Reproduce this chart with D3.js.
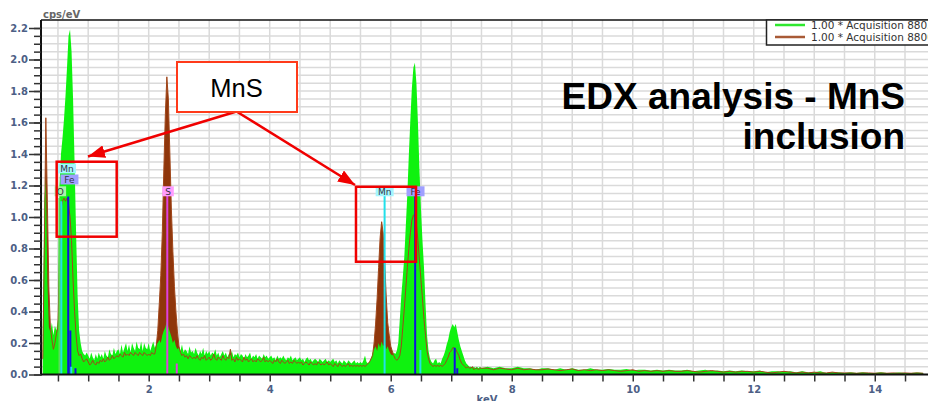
<!DOCTYPE html>
<html>
<head>
<meta charset="utf-8">
<script src="https://cdn.jsdelivr.net/npm/d3@7"></script>
<style>
body { margin: 0; background: #fff; }
svg { display: block; }
</style>
</head>
<body>
<div id="chart-area"></div>
<script>
// spectrum channels: fine channels up to 7.5 keV, coarse ones after
var lowStart = 0.25, lowStep = 0.025;
var highStart = 7.6, highStep = 0.1;

var seriesNames = ["1.00 * Acquisition 8803", "1.00 * Acquisition 8800"];

// cps/eV, acquisition 8803 (green)
var greenLow = [
    0.3, 1.1, 1.25, 0.6, 0.3, 0.27, 0.33, 0.25, 0.31, 0.28,
    0.35, 1.2, 1.4, 1.5, 1.62, 1.77, 1.95, 2.15, 2.19, 2.05,
    1.75, 1.35, 0.9, 0.5, 0.28, 0.2, 0.15, 0.13, 0.12, 0.14,
    0.12, 0.1, 0.14, 0.11, 0.09, 0.13, 0.1, 0.14, 0.11, 0.13,
    0.1, 0.15, 0.12, 0.11, 0.16, 0.13, 0.12, 0.17, 0.13, 0.15,
    0.16, 0.13, 0.19, 0.14, 0.17, 0.2, 0.15, 0.19, 0.14, 0.2,
    0.17, 0.15, 0.21, 0.17, 0.16, 0.21, 0.15, 0.2, 0.17, 0.16,
    0.2, 0.15, 0.18, 0.21, 0.17, 0.19, 0.2, 0.22, 0.2, 0.25,
    0.28, 0.3, 0.34, 0.3, 0.27, 0.24, 0.2, 0.22, 0.18, 0.16,
    0.17, 0.15, 0.19, 0.14, 0.16, 0.15, 0.13, 0.18, 0.14, 0.15,
    0.13, 0.17, 0.14, 0.12, 0.15, 0.13, 0.17, 0.12, 0.15, 0.13,
    0.15, 0.12, 0.14, 0.13, 0.16, 0.12, 0.14, 0.11, 0.13, 0.15,
    0.12, 0.14, 0.11, 0.13, 0.12, 0.15, 0.11, 0.13, 0.12, 0.14,
    0.11, 0.13, 0.12, 0.1, 0.13, 0.11, 0.12, 0.14, 0.1, 0.12,
    0.11, 0.13, 0.1, 0.12, 0.11, 0.1, 0.13, 0.11, 0.12, 0.1,
    0.11, 0.12, 0.1, 0.11, 0.09, 0.12, 0.1, 0.11, 0.1, 0.12,
    0.1, 0.09, 0.11, 0.1, 0.12, 0.09, 0.1, 0.11, 0.09, 0.1,
    0.11, 0.09, 0.1, 0.08, 0.1, 0.11, 0.09, 0.1, 0.08, 0.09,
    0.1, 0.09, 0.08, 0.1, 0.09, 0.08, 0.09, 0.1, 0.08, 0.09,
    0.08, 0.09, 0.1, 0.08, 0.09, 0.07, 0.09, 0.08, 0.07, 0.09,
    0.08, 0.07, 0.09, 0.08, 0.07, 0.08, 0.09, 0.07, 0.08, 0.07,
    0.08, 0.07, 0.09, 0.12, 0.08, 0.07, 0.08, 0.1, 0.14, 0.16,
    0.18, 0.15, 0.2, 0.17, 0.21, 0.18, 0.2, 0.16, 0.18, 0.15,
    0.13, 0.12, 0.14, 0.13, 0.15, 0.2, 0.35, 0.5, 0.62, 0.75,
    0.95, 1.15, 1.4, 1.62, 1.82, 1.95, 1.98, 1.85, 1.6, 1.3,
    1.05, 0.85, 0.68, 0.45, 0.25, 0.15, 0.1, 0.08, 0.07, 0.09,
    0.1, 0.07, 0.08, 0.07, 0.1, 0.12, 0.15, 0.19, 0.22, 0.27,
    0.3, 0.32, 0.3, 0.32, 0.27, 0.22, 0.18, 0.15, 0.12, 0.09,
    0.07, 0.06, 0.05, 0.05, 0.04, 0.05, 0.04, 0.05, 0.04, 0.05,
    0.04
];
var greenHigh = [
    0.05, 0.04, 0.05, 0.04, 0.04, 0.05, 0.04, 0.04, 0.03, 0.04,
    0.04, 0.03, 0.04, 0.03, 0.04, 0.03, 0.03, 0.04, 0.03, 0.03,
    0.035, 0.03, 0.03, 0.035, 0.025, 0.03, 0.03, 0.025, 0.03, 0.025,
    0.03, 0.025, 0.025, 0.03, 0.02, 0.025, 0.03, 0.02, 0.025, 0.02,
    0.025, 0.02, 0.025, 0.02, 0.02, 0.025, 0.015, 0.02, 0.02, 0.015,
    0.02, 0.015, 0.02, 0.015, 0.015, 0.02, 0.01, 0.015, 0.015, 0.01,
    0.015, 0.01, 0.015, 0.01, 0.01, 0.015, 0.01, 0.01, 0.012, 0.01,
    0.01, 0.012, 0.01
];

// cps/eV, acquisition 8800 (brown)
var brownLow = [
    0.1, 0.8, 1.63, 1.1, 0.55, 0.3, 0.22, 0.16, 0.2, 0.26,
    0.3, 0.75, 1.05, 1.1, 1.12, 1.1, 1.12, 1.08, 1.0, 0.85,
    0.6, 0.4, 0.25, 0.15, 0.12, 0.13, 0.1, 0.08, 0.09, 0.1,
    0.08, 0.06, 0.07, 0.09, 0.07, 0.06, 0.08, 0.07, 0.09, 0.08,
    0.1, 0.08, 0.09, 0.11, 0.09, 0.1, 0.12, 0.1, 0.11, 0.12,
    0.11, 0.13, 0.12, 0.11, 0.14, 0.12, 0.13, 0.12, 0.14, 0.13,
    0.12, 0.14, 0.13, 0.12, 0.14, 0.13, 0.12, 0.14, 0.13, 0.12,
    0.13, 0.12, 0.14, 0.13, 0.13, 0.18, 0.28, 0.45, 0.63, 0.9,
    1.3, 1.65, 1.89, 1.75, 1.4, 1.05, 0.78, 0.56, 0.4, 0.27,
    0.18, 0.14, 0.12, 0.13, 0.11, 0.12, 0.1, 0.12, 0.11, 0.1,
    0.11, 0.1, 0.12, 0.1, 0.09, 0.11, 0.1, 0.12, 0.09, 0.1,
    0.11, 0.09, 0.1, 0.13, 0.1, 0.09, 0.11, 0.1, 0.09, 0.12,
    0.1, 0.09, 0.11, 0.1, 0.16, 0.09, 0.1, 0.08, 0.11, 0.09,
    0.1, 0.09, 0.08, 0.11, 0.09, 0.1, 0.08, 0.09, 0.1, 0.08,
    0.09, 0.08, 0.1, 0.09, 0.08, 0.09, 0.11, 0.08, 0.09, 0.08,
    0.09, 0.08, 0.07, 0.09, 0.08, 0.1, 0.08, 0.07, 0.09, 0.08,
    0.07, 0.08, 0.09, 0.07, 0.08, 0.07, 0.09, 0.08, 0.07, 0.08,
    0.07, 0.08, 0.06, 0.07, 0.08, 0.07, 0.06, 0.08, 0.07, 0.06,
    0.07, 0.06, 0.08, 0.07, 0.06, 0.07, 0.06, 0.07, 0.08, 0.06,
    0.07, 0.06, 0.05, 0.07, 0.06, 0.05, 0.07, 0.06, 0.05, 0.06,
    0.05, 0.06, 0.07, 0.05, 0.06, 0.05, 0.06, 0.05, 0.06, 0.05,
    0.06, 0.05, 0.06, 0.05, 0.06, 0.07, 0.08, 0.1, 0.12, 0.2,
    0.32, 0.48, 0.68, 0.87, 0.97, 0.9, 0.72, 0.5, 0.33, 0.25,
    0.18, 0.15, 0.12, 0.1, 0.09, 0.1, 0.12, 0.18, 0.3, 0.42,
    0.55, 0.68, 0.8, 0.9, 0.98, 1.01, 1.02, 0.95, 0.85, 0.72,
    0.6, 0.48, 0.35, 0.25, 0.15, 0.1, 0.07, 0.06, 0.05, 0.06,
    0.05, 0.06, 0.05, 0.06, 0.05, 0.06, 0.07, 0.09, 0.11, 0.14,
    0.15, 0.17, 0.17, 0.16, 0.14, 0.12, 0.09, 0.07, 0.06, 0.05,
    0.04, 0.05, 0.04, 0.04, 0.05, 0.03, 0.04, 0.04, 0.03, 0.04,
    0.04
];
var brownHigh = [
    0.04, 0.03, 0.04, 0.035, 0.03, 0.04, 0.03, 0.035, 0.03, 0.03,
    0.035, 0.03, 0.025, 0.03, 0.035, 0.025, 0.03, 0.025, 0.03, 0.025,
    0.03, 0.025, 0.02, 0.025, 0.03, 0.02, 0.025, 0.02, 0.025, 0.02,
    0.025, 0.02, 0.02, 0.025, 0.02, 0.015, 0.02, 0.025, 0.02, 0.015,
    0.02, 0.015, 0.02, 0.02, 0.015, 0.02, 0.015, 0.01, 0.015, 0.02,
    0.015, 0.01, 0.015, 0.01, 0.015, 0.01, 0.01, 0.015, 0.01, 0.01,
    0.01, 0.008, 0.01, 0.01, 0.008, 0.01, 0.008, 0.01, 0.008, 0.01,
    0.008, 0.01, 0.008
];

// element line markers (keV, marker height in cps/eV)
var markerElement = ["O", "Mn", "Fe", "Fe", "Mn", "Fe", "S", "S", "Mn", "Fe", "Mn", "Fe", "Fe"];
var markerEnergy = [0.525, 0.556, 0.67, 0.705, 0.72, 0.79, 2.307, 2.464, 5.899, 6.404, 6.49, 7.058, 7.1];
var markerTop = [1.12, 1.1, 1.13, 0.28, 0.05, 0.04, 1.14, 0.07, 1.14, 1.14, 0.155, 0.17, 0.04];

var labelElement = ["Mn", "Fe", "O", "S", "Mn", "Fe"];
var labelEnergy = [0.65, 0.69, 0.54, 2.32, 5.9, 6.41];

var xTickValues = [2, 4, 6, 8, 10, 12, 14];
var yTickValues = [0, 0.2, 0.4, 0.6, 0.8, 1.0, 1.2, 1.4, 1.6, 1.8, 2.0, 2.2];

// ---- layout ----
var W = 928, H = 401;
var plot = { left: 41, right: 928, top: 20, bottom: 374.5 };
var labelLevel = [1.34, 1.27, 1.195, 1.195, 1.195, 1.195];
var elementColor = { O: "#55dd55", Mn: "#22e0ea", Fe: "#1010e0", S: "#e040e0" };
var labelFill = { O: "#a8f2a8", Mn: "#a4f6ff", Fe: "#a0a0ff", S: "#ff9cff" };

var x = d3.scaleLinear().domain([0.22, 14.88]).range([plot.left, plot.right]);
var y = d3.scaleLinear().domain([0, 2.2]).range([plot.bottom, 28]);

function spectrum(low, high) {
    var pts = low.map(function (v, i) {
        return { e: lowStart + i * lowStep, v: v };
    });
    high.forEach(function (v, i) {
        pts.push({ e: highStart + i * highStep, v: v });
    });
    return pts;
}
var green = spectrum(greenLow, greenHigh);
var brown = spectrum(brownLow, brownHigh);

var svg = d3.select("#chart-area")
    .append("svg")
    .attr("width", W)
    .attr("height", H);

svg.append("defs").append("clipPath")
    .attr("id", "plot-clip")
    .append("rect")
    .attr("x", plot.left).attr("y", plot.top)
    .attr("width", plot.right - plot.left)
    .attr("height", plot.bottom - plot.top);

// grid
var grid = svg.append("g").attr("stroke", "#dadada").attr("stroke-width", 1.5);
grid.selectAll(".vg")
    .data(d3.range(0.5, 15, 0.5))
    .enter().append("line")
    .attr("x1", function (d) { return x(d) }).attr("x2", function (d) { return x(d) })
    .attr("y1", plot.top).attr("y2", plot.bottom);
grid.selectAll(".hg")
    .data(d3.range(1, 45).map(function (i) { return i * 0.05 }))
    .enter().append("line")
    .attr("x1", plot.left).attr("x2", plot.right)
    .attr("y1", function (d) { return y(d) }).attr("y2", function (d) { return y(d) });

var marks = svg.append("g").attr("clip-path", "url(#plot-clip)");

var area = d3.area()
    .x(function (d) { return x(d.e) })
    .y0(y(0))
    .y1(function (d) { return y(d.v) });
var line = d3.line()
    .x(function (d) { return x(d.e) })
    .y(function (d) { return y(d.v) });

marks.append("path").datum(brown).attr("d", area).attr("fill", "#8f360b");
marks.append("path").datum(green).attr("d", area).attr("fill", "#0ff20f");
marks.append("path").datum(brown).attr("d", line)
    .attr("fill", "none").attr("stroke", "#a0461a").attr("stroke-width", 1);

// element lines
marks.selectAll(".marker")
    .data(markerEnergy)
    .enter().append("line")
    .attr("x1", function (d) { return x(d) }).attr("x2", function (d) { return x(d) })
    .attr("y1", y(0))
    .attr("y2", function (d, i) { return y(markerTop[i]) })
    .attr("stroke", function (d, i) { return elementColor[markerElement[i]] })
    .attr("stroke-width", 2);

var tags = svg.selectAll(".tag")
    .data(labelElement)
    .enter().append("g")
    .attr("transform", function (d, i) {
        return "translate(" + x(labelEnergy[i]) + "," + y(labelLevel[i]) + ")";
    });
tags.append("rect")
    .attr("x", function (d) { return -(d.length * 6.5 + 5) / 2 })
    .attr("y", 0)
    .attr("width", function (d) { return d.length * 6.5 + 5 })
    .attr("height", 10)
    .attr("fill", function (d) { return labelFill[d] });
tags.append("text")
    .attr("y", 8.5)
    .attr("text-anchor", "middle")
    .attr("font-family", "DejaVu Sans")
    .attr("font-size", "9px")
    .attr("fill", "#333344")
    .text(function (d) { return d });

// frame
svg.append("line").attr("x1", plot.left).attr("x2", plot.right)
    .attr("y1", plot.top).attr("y2", plot.top)
    .attr("stroke", "#111").attr("stroke-width", 1.5);
svg.append("line").attr("x1", plot.left).attr("x2", plot.left)
    .attr("y1", plot.top).attr("y2", plot.bottom + 1)
    .attr("stroke", "#111").attr("stroke-width", 2);
svg.append("line").attr("x1", plot.left).attr("x2", plot.right)
    .attr("y1", plot.bottom).attr("y2", plot.bottom)
    .attr("stroke", "#111").attr("stroke-width", 2);

// axes
var xG = svg.append("g")
    .attr("transform", "translate(0," + plot.bottom + ")")
    .call(d3.axisBottom(x)
        .tickValues(d3.range(0.5, 15, 0.5))
        .tickSize(7)
        .tickFormat(function (d) { return xTickValues.indexOf(d) > -1 ? d : "" }));
xG.select(".domain").remove();

var yMinor = svg.append("g")
    .attr("transform", "translate(" + plot.left + ",0)")
    .call(d3.axisLeft(y)
        .tickValues(d3.range(0, 45).map(function (i) { return i * 0.05 }))
        .tickSize(7)
        .tickFormat(""));
yMinor.select(".domain").remove();

var yG = svg.append("g")
    .attr("transform", "translate(" + plot.left + ",0)")
    .call(d3.axisLeft(y).tickValues(yTickValues).tickSize(12).tickFormat(d3.format(".1f")));
yG.select(".domain").remove();

svg.selectAll(".tick line").attr("stroke", "#333").attr("stroke-width", 1.5);
svg.selectAll(".tick text")
    .attr("font-family", "DejaVu Sans")
    .attr("font-size", "10px")
    .attr("font-weight", "bold")
    .attr("fill", "#4d5f86");
yG.selectAll(".tick text").attr("x", -13);
xG.selectAll(".tick text").attr("y", 11);

svg.append("text")
    .attr("x", 43).attr("y", 18)
    .attr("font-family", "DejaVu Sans").attr("font-size", "10px").attr("font-weight", "bold")
    .attr("fill", "#666")
    .text("cps/eV");

svg.append("text")
    .attr("x", 487).attr("y", 403)
    .attr("text-anchor", "middle")
    .attr("font-family", "DejaVu Sans").attr("font-size", "10px").attr("font-weight", "bold")
    .attr("fill", "#4d5f86")
    .text("keV");

// legend
var legend = svg.append("g");
legend.append("rect")
    .attr("x", 766.5).attr("y", 20).attr("width", 200).attr("height", 25)
    .attr("fill", "#fff").attr("stroke", "#222").attr("stroke-width", 1.5);
var legendColors = ["#2ee82e", "#a85a36"];
seriesNames.forEach(function (name, i) {
    legend.append("line")
        .attr("x1", 775).attr("x2", 805)
        .attr("y1", 25 + i * 12).attr("y2", 25 + i * 12)
        .attr("stroke", legendColors[i]).attr("stroke-width", 2.5);
    legend.append("text")
        .attr("x", 811).attr("y", 28.5 + i * 12)
        .attr("font-family", "DejaVu Sans").attr("font-size", "10.5px")
        .attr("fill", "#333")
        .text(name);
});

// annotations
var red = "#f00000";
var defs = svg.select("defs");
defs.append("marker")
    .attr("id", "head")
    .attr("markerUnits", "userSpaceOnUse")
    .attr("markerWidth", 17).attr("markerHeight", 13)
    .attr("refX", 17).attr("refY", 6.5)
    .attr("orient", "auto")
    .append("path")
    .attr("d", "M0,0 L17,6.5 L0,13 Z")
    .attr("fill", red);

var boxes = [
    { e0: 0.479, e1: 1.471, v0: 0.875, v1: 1.351 },
    { e0: 5.426, e1: 6.418, v0: 0.716, v1: 1.192 }
];
svg.selectAll(".hl")
    .data(boxes)
    .enter().append("rect")
    .attr("x", function (d) { return x(d.e0) })
    .attr("y", function (d) { return y(d.v1) })
    .attr("width", function (d) { return x(d.e1) - x(d.e0) })
    .attr("height", function (d) { return y(d.v0) - y(d.v1) })
    .attr("fill", "none").attr("stroke", red).attr("stroke-width", 2.5);

var arrowFrom = { e: 3.451, v: 1.67 };
var arrowTo = [{ e: 0.997, v: 1.384 }, { e: 5.41, v: 1.203 }];
svg.selectAll(".arrow")
    .data(arrowTo)
    .enter().append("line")
    .attr("x1", x(arrowFrom.e)).attr("y1", y(arrowFrom.v))
    .attr("x2", function (d) { return x(d.e) })
    .attr("y2", function (d) { return y(d.v) })
    .attr("stroke", red).attr("stroke-width", 2.5)
    .attr("marker-end", "url(#head)");

svg.append("rect")
    .attr("x", 177).attr("y", 62).attr("width", 120).attr("height", 50)
    .attr("fill", "#fff").attr("stroke", "#ff3a1a").attr("stroke-width", 2);
svg.append("text")
    .attr("x", 236.5).attr("y", 96.5)
    .attr("text-anchor", "middle")
    .attr("font-family", "Liberation Sans, Arial, sans-serif").attr("font-size", "25.5px")
    .attr("fill", "#000")
    .text("MnS");

var title = svg.append("text")
    .attr("text-anchor", "end")
    .attr("font-family", "Liberation Sans, Arial, sans-serif")
    .attr("font-size", "37px").attr("font-weight", "bold")
    .attr("fill", "#000");
title.append("tspan").attr("x", 905).attr("y", 109).text("EDX analysis - MnS");
title.append("tspan").attr("x", 905).attr("y", 149).text("inclusion");
</script>
</body>
</html>
